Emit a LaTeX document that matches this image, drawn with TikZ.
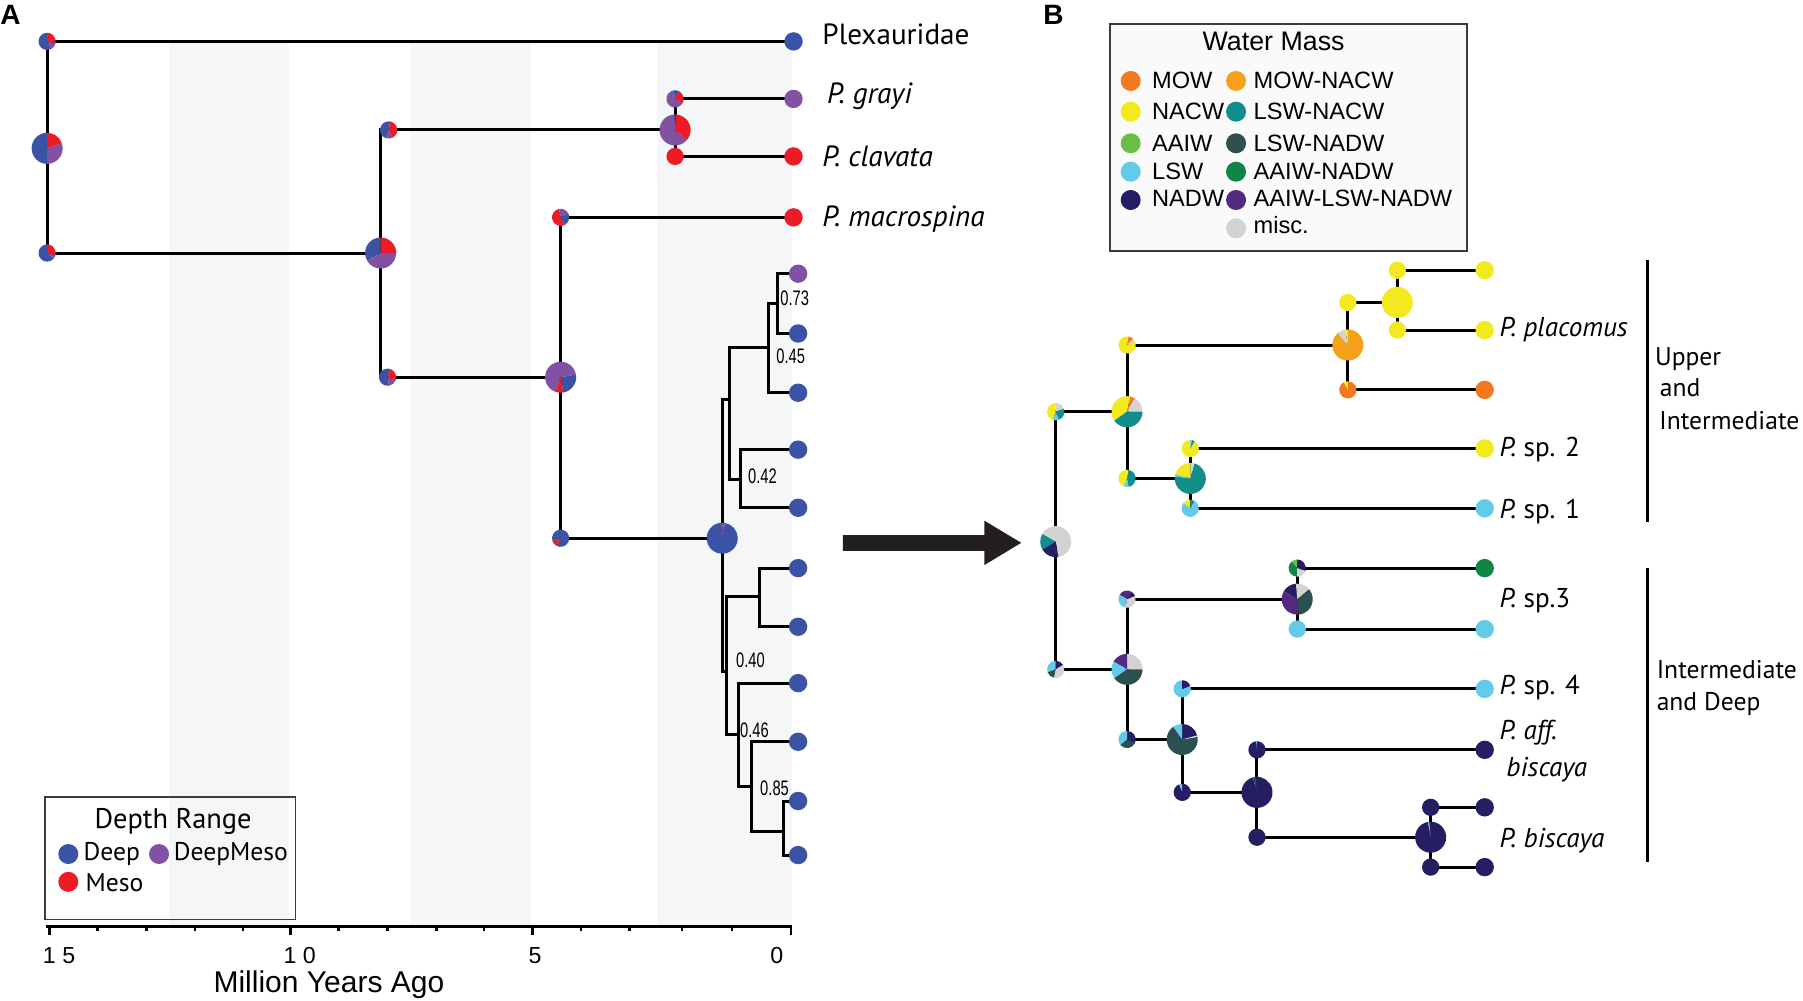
\documentclass[tikz,border=0pt]{standalone}
\usepackage{fontspec}
\setmainfont{PT Sans}
\newfontfamily\arialf{Liberation Sans}
\definecolor{dp}{RGB}{58,83,164}
\definecolor{ms}{RGB}{237,28,36}
\definecolor{dm}{RGB}{129,82,163}
\definecolor{mow}{RGB}{243,121,32}
\definecolor{mownacw}{RGB}{247,161,27}
\definecolor{nacw}{RGB}{242,234,30}
\definecolor{lswnacw}{RGB}{17,142,140}
\definecolor{aaiw}{RGB}{106,189,69}
\definecolor{lswnadw}{RGB}{44,80,80}
\definecolor{lsw}{RGB}{98,203,232}
\definecolor{aaiwnadw}{RGB}{14,135,70}
\definecolor{nadw}{RGB}{38,30,98}
\definecolor{aaiwlswnadw}{RGB}{84,41,128}
\definecolor{misc}{RGB}{211,211,211}
\definecolor{band}{RGB}{245,246,248}
\definecolor{arrowc}{RGB}{35,31,32}
\definecolor{boxline}{RGB}{60,60,62}
\newcommand\drawpie[3]{\foreach \pa/\pb/\pc in {#3}{\fill[\pc] (#1) -- ++({-1*(\pa)}:#2) arc[start angle={-1*(\pa)}, end angle={-1*(\pb)}, radius=#2] -- cycle;}}
\newcommand\disc[3]{\fill[#3] (#1) circle[radius=#2];}
\tikzset{
  branch/.style={line width=1.5pt, black},
  axisl/.style={line width=1.3pt, black},
  splabA/.style={anchor=base west, inner sep=0, font=\fontsize{14.6}{17}\selectfont},
  splabB/.style={anchor=base west, inner sep=0, font=\fontsize{13.6}{16}\selectfont},
  grplab/.style={anchor=base west, inner sep=0, font=\fontsize{12.8}{15}\selectfont},
  support/.style={anchor=center, inner sep=0, font=\arialf\fontsize{10.5}{12}\selectfont},
  axnum/.style={anchor=base, inner sep=0, font=\arialf\fontsize{11.6}{13}\selectfont},
  legB/.style={anchor=base west, inner sep=0, font=\arialf\fontsize{11.8}{13}\selectfont},
  legA/.style={anchor=base west, inner sep=0, font=\fontsize{12.8}{15}\selectfont},
  panel/.style={anchor=base west, inner sep=0, font=\arialf\bfseries\fontsize{14}{16}\selectfont},
}
\begin{document}
\begin{tikzpicture}[x=0.575pt,y=-0.575pt]
\useasboundingbox (0,0) rectangle (1567.8,870.4);
% ---------------- Panel A background bands
\foreach \xa/\xb in {147/251,357/462,571/689} \fill[band] (\xa,36) rectangle (\xb,805);
\node[panel] (labA) at (0,21) {A};
\node[panel] (labB) at (907,21) {B};
% ---------------- Panel A coordinates
\coordinate (R) at (41,129);
\coordinate (Rt) at (41,36);
\coordinate (Rb) at (41,220);
\coordinate (Lplex) at (690,36);
\coordinate (N1) at (331,220);
\coordinate (c1) at (331,113);
\coordinate (c2) at (331,328);
\coordinate (N1t) at (338,113);
\coordinate (N1b) at (337,328);
\coordinate (N2) at (587,113);
\coordinate (N2t) at (587,86);
\coordinate (N2b) at (587,136);
\coordinate (Lgrayi) at (690,86);
\coordinate (Lclav) at (690,136);
\coordinate (N3) at (487.5,328);
\coordinate (N3t) at (487.5,189);
\coordinate (N3b) at (487.5,468);
\coordinate (Lmac) at (690,189);
\coordinate (N4) at (628,468);
\coordinate (U) at (634,347);
\coordinate (V) at (668,302);
\coordinate (W) at (676,264);
\coordinate (X) at (643.5,417);
\coordinate (Y) at (632,583.5);
\coordinate (Z) at (660,519);
\coordinate (P) at (642,639);
\coordinate (Q) at (653.6,684);
\coordinate (S) at (681,722.6);
\coordinate (l1) at (694,238);
\coordinate (l2) at (694,290);
\coordinate (l3) at (694,341.5);
\coordinate (l4) at (694,391);
\coordinate (l5) at (694,441.5);
\coordinate (l6) at (694,494);
\coordinate (l7) at (694,545);
\coordinate (l8) at (694,594);
\coordinate (l9) at (694,645);
\coordinate (l10) at (694,696.5);
\coordinate (l11) at (694,743.5);
% ---------------- Panel A branches
\draw[branch] (R) -- (Rt) -- (Lplex);
\draw[branch] (R) -- (Rb) -- (N1);
\draw[branch] (N1) -- (c1) -- (N2);
\draw[branch] (N1) -- (c2) -- (N3);
\draw[branch] (N2) |- (Lgrayi);
\draw[branch] (N2) |- (Lclav);
\draw[branch] (N3) |- (Lmac);
\draw[branch] (N3) |- (N4);
\draw[branch] (N4) |- (U);
\draw[branch] (N4) |- (Y);
\draw[branch] (U) |- (V);
\draw[branch] (U) |- (X);
\draw[branch] (V) |- (W);
\draw[branch] (V) |- (l3);
\draw[branch] (W) |- (l1);
\draw[branch] (W) |- (l2);
\draw[branch] (X) |- (l4);
\draw[branch] (X) |- (l5);
\draw[branch] (Y) |- (Z);
\draw[branch] (Y) |- (P);
\draw[branch] (Z) |- (l6);
\draw[branch] (Z) |- (l7);
\draw[branch] (P) |- (l8);
\draw[branch] (P) |- (Q);
\draw[branch] (Q) |- (l9);
\draw[branch] (Q) |- (S);
\draw[branch] (S) |- (l10);
\draw[branch] (S) |- (l11);
% ---------------- Panel A pies
\drawpie{R}{13.5}{90/270/dp, 270/380/dm, 20/90/ms}
\drawpie{Rt}{7.5}{90/300/dp, 300/350/dm, -10/90/ms}
\drawpie{Rb}{7.5}{90/320/dp, 320/345/dm, -15/90/ms}
\drawpie{N1}{13.5}{90/210/dp, 210/360/dm, 0/90/ms}
\drawpie{N1t}{7.5}{80/250/dp, 250/300/dm, -60/80/ms}
\drawpie{N1b}{7.5}{70/280/dp, 280/340/dm, -20/70/ms}
\drawpie{N2}{13.5}{92/320/dm, 88/92/dp, -40/88/ms}
\drawpie{N2t}{7.5}{100/330/dm, 60/100/dp, -30/60/ms}
\disc{N2b}{7.5}{ms}
\drawpie{N3}{13.5}{10/250/dm, 250/280/ms, 280/370/dp}
\drawpie{N3t}{7.5}{100/300/ms, 300/390/dp, 30/100/dm}
\drawpie{N3b}{7.5}{240/560/dp, 200/240/ms}
\drawpie{N4}{13.5}{95/440/dp, 80/95/dm}
\disc{Lplex}{8}{dp}
\disc{Lgrayi}{8}{dm}
\disc{Lclav}{8}{ms}
\disc{Lmac}{8}{ms}
\disc{l1}{8}{dm}
\foreach \l in {l2,l3,l4,l5,l6,l7,l8,l9,l10,l11} {\disc{\l}{8}{dp}}
% support values
\node[support] (s73) at (691,259) {\scalebox{0.7}[1]{0.73}};
\node[support] (s45) at (687.5,309.6) {\scalebox{0.7}[1]{0.45}};
\node[support] (s42) at (663,414.5) {\scalebox{0.7}[1]{0.42}};
\node[support] (s40) at (652.5,574) {\scalebox{0.7}[1]{0.40}};
\node[support] (s46) at (656,634.8) {\scalebox{0.7}[1]{0.46}};
\node[support] (s85) at (673.5,685.5) {\scalebox{0.7}[1]{0.85}};
% species labels A
\node[splabA] (tplex) at (714.8,38.3) {Plexauridae};
\node[splabA] (tgrayi) at (718.8,89.9) {\itshape P. grayi};
\node[splabA] (tclav) at (714.8,145) {\itshape P. clavata};
\node[splabA] (tmac) at (714.8,197) {\itshape P. macrospina};
% axis
\coordinate (ax0) at (40,805.8);
\coordinate (ax1) at (688.5,805.8);
\draw[axisl] (ax0) -- (ax1);
\foreach \t in {42.9,252.6,462.8,687.9} \draw[axisl] (\t,805.8) -- (\t,813);
\foreach \t in {84.9,127.3,169.7,211.2,294.5,337,379.4,420.8,505.2,547.6,593,636.5} \draw[axisl] (\t,805.8) -- (\t,809.6);
\node[axnum] (n15) at (51.4,837.7) {1 5};
\node[axnum] (n10) at (260.6,837.7) {1 0};
\node[axnum] (n5) at (465.2,837.7) {5};
\node[axnum] (n0) at (675.4,837.7) {0};
\node[anchor=base, inner sep=0, font=\arialf\fontsize{15}{17}\selectfont] (xtitle) at (286,863.2) {Million Years Ago};
% legend A
\draw[boxline, line width=0.8pt] (39,693) rectangle (257,799.4);
\node[anchor=base, inner sep=0, font=\fontsize{14.2}{16}\selectfont] (ltA) at (150.5,720.3) {Depth Range};
\coordinate (kdeep) at (59.4,742.6);
\coordinate (kdm) at (138.3,742.6);
\coordinate (kms) at (59.4,766.8);
\disc{kdeep}{8.7}{dp}
\disc{kdm}{8.7}{dm}
\disc{kms}{8.7}{ms}
\node[legA] at (72.4,747.8) {Deep};
\node[legA] at (150.8,747.8) {DeepMeso};
\node[legA] at (74,775.4) {Meso};
% ---------------- arrow between panels
\fill[arrowc] (733,465.2) -- (856,465.2) -- (856,452.8) -- (888,472) -- (856,491.3) -- (856,478.9) -- (733,478.9) -- cycle;
% ---------------- Panel B legend
\draw[boxline, line width=1pt, fill={rgb,255:red,250;green,250;blue,250}] (965.2,20.9) rectangle (1275.4,218);
\node[anchor=base, inner sep=0, font=\arialf\fontsize{13.4}{15}\selectfont] (ltB) at (1107.5,44) {Water Mass};
\foreach \yc/\yb/\ca/\ta/\cb/\tb in {70.4/76.8/mow/MOW/mownacw/MOW-NACW, 97.1/103.8/nacw/NACW/lswnacw/LSW-NACW, 124.6/131.3/aaiw/AAIW/lswnadw/LSW-NADW, 149.3/155.7/lsw/LSW/aaiwnadw/AAIW-NADW, 173.9/179.7/nadw/NADW/aaiwlswnadw/AAIW-LSW-NADW}{
  \fill[\ca] (983.2,\yc) circle[radius=8.7];
  \fill[\cb] (1074.8,\yc) circle[radius=8.7];
  \node[legB] at (1001.5,\yb) {\ta};
  \node[legB] at (1089.8,\yb) {\tb};
}
\fill[misc] (1074.8,198.5) circle[radius=8.7];
\node[legB] at (1089.8,202.9) {misc.};
% ---------------- Panel B coordinates
\coordinate (BR) at (918,471);
\coordinate (Bt) at (918,358);
\coordinate (Bb) at (918,582);
\coordinate (B1) at (980,358);
\coordinate (B1t) at (980,300);
\coordinate (B1b) at (980,416);
\coordinate (B2) at (1172,300);
\coordinate (B2t) at (1172,263);
\coordinate (B2b) at (1172,339);
\coordinate (B3) at (1215,263);
\coordinate (B3t) at (1215,235);
\coordinate (B3b) at (1215,287);
\coordinate (Lp1) at (1291,235);
\coordinate (Lp2) at (1291,287);
\coordinate (Lp3) at (1291,339);
\coordinate (B4) at (1035,416);
\coordinate (B4t) at (1035,390);
\coordinate (B4b) at (1035,442);
\coordinate (Lsp2) at (1291,390);
\coordinate (Lsp1) at (1291,442);
\coordinate (B5) at (980,582);
\coordinate (B5t) at (980,521);
\coordinate (B5b) at (980,643);
\coordinate (B6) at (1128,521);
\coordinate (B6t) at (1128,494);
\coordinate (B6b) at (1128,547);
\coordinate (Lsp3a) at (1291,494);
\coordinate (Lsp3b) at (1291,547);
\coordinate (B7) at (1028,643);
\coordinate (B7t) at (1028,599);
\coordinate (B7b) at (1028,689);
\coordinate (Lsp4) at (1291,599);
\coordinate (B8) at (1093,689);
\coordinate (B8t) at (1093,652);
\coordinate (B8b) at (1093,728);
\coordinate (Laff) at (1291,652);
\coordinate (B9) at (1244,728);
\coordinate (B9t) at (1244,702);
\coordinate (B9b) at (1244,754);
\coordinate (Lbis1) at (1291,702);
\coordinate (Lbis2) at (1291,754);
% ---------------- Panel B branches
\draw[branch] (BR) |- (B1);
\draw[branch] (BR) |- (B5);
\draw[branch] (B1) |- (B2);
\draw[branch] (B1) |- (B4);
\draw[branch] (B2) |- (B3);
\draw[branch] (B2) |- (Lp3);
\draw[branch] (B3) |- (Lp1);
\draw[branch] (B3) |- (Lp2);
\draw[branch] (B4) |- (Lsp2);
\draw[branch] (B4) |- (Lsp1);
\draw[branch] (B5) |- (B6);
\draw[branch] (B5) |- (B7);
\draw[branch] (B6) |- (Lsp3a);
\draw[branch] (B6) |- (Lsp3b);
\draw[branch] (B7) |- (Lsp4);
\draw[branch] (B7) |- (B8);
\draw[branch] (B8) |- (Laff);
\draw[branch] (B8) |- (B9);
\draw[branch] (B9) |- (Lbis1);
\draw[branch] (B9) |- (Lbis2);
% ---------------- Panel B pies
\drawpie{BR}{13.5}{-80/150/misc, 150/210/lswnacw, 210/280/nadw}
\drawpie{Bt}{7.5}{90/250/nacw, 20/90/misc, -70/20/lswnacw, 250/290/lsw}
\drawpie{B1}{13.5}{78/215/nacw, 60/78/mow, 0/60/misc, 215/360/lswnacw}
\drawpie{B1t}{7.5}{80/385/nacw, 45/80/mow, 25/45/misc}
\drawpie{B2}{13.5}{130/450/mownacw, 100/130/misc, 90/100/nacw}
\disc{B2t}{7.5}{nacw}
\disc{B3}{13.5}{nacw}
\disc{B3t}{7.5}{nacw}
\disc{B3b}{7.5}{nacw}
\drawpie{B2b}{7.5}{118/450/mow, 90/118/nacw}
\drawpie{B1b}{7.5}{-80/80/lswnacw, 80/250/nacw, 250/280/lsw}
\drawpie{B4}{13.5}{175/435/lswnacw, 75/90/misc, 90/165/nacw, 165/175/lsw}
\drawpie{B4t}{7.5}{90/420/nacw, 60/80/lswnacw, 80/90/lsw}
\drawpie{B4b}{7.5}{140/420/lsw, 90/140/nacw, 60/90/lswnacw}
\drawpie{Bb}{7.5}{30/90/nadw, 90/200/lsw, 200/260/lswnadw, 260/390/misc}
\drawpie{B5}{13.5}{0/90/misc, 90/150/aaiwlswnadw, 150/215/lsw, 215/360/lswnadw}
\drawpie{B5t}{7.5}{60/150/aaiwlswnadw, 20/60/nadw, 150/260/lsw, 260/380/misc}
\drawpie{B6}{13.5}{95/150/nadw, 40/95/misc, -85/40/lswnadw, 150/275/aaiwlswnadw}
\drawpie{B6t}{7.5}{-20/90/nadw, 90/130/aaiw, 130/270/aaiwnadw, 270/340/misc}
\disc{B6b}{7.5}{lsw}
\drawpie{B5b}{7.5}{-30/90/nadw, 90/220/lsw, 220/330/lswnadw}
\drawpie{B7}{13.5}{125/370/lswnadw, 15/90/nadw, 90/125/lsw, 10/15/misc}
\drawpie{B7t}{7.5}{90/380/lsw, 20/90/nadw}
\drawpie{B7b}{7.5}{110/450/nadw, 90/110/lsw}
\drawpie{B8}{13.5}{105/455/nadw, 95/105/lswnadw}
\drawpie{B8t}{7.5}{95/450/nadw, 90/95/lsw}
\disc{B8b}{7.5}{nadw}
\drawpie{B9}{13.5}{100/455/nadw, 95/100/lsw}
\disc{B9t}{7.5}{nadw}
\disc{B9b}{7.5}{nadw}
% leaves B
\disc{Lp1}{8}{nacw}
\disc{Lp2}{8}{nacw}
\disc{Lp3}{8}{mow}
\disc{Lsp2}{8}{nacw}
\disc{Lsp1}{8}{lsw}
\disc{Lsp3a}{8}{aaiwnadw}
\disc{Lsp3b}{8}{lsw}
\disc{Lsp4}{8}{lsw}
\disc{Laff}{8}{nadw}
\disc{Lbis1}{8}{nadw}
\disc{Lbis2}{8}{nadw}
% species labels B
\node[splabB] (tplac) at (1303.6,293) {\itshape P. placomus};
\node[splabB] (tsp2) at (1303.6,397) {\itshape P.\upshape\ sp. 2};
\node[splabB] (tsp1) at (1303.6,450.7) {\itshape P.\upshape\ sp. 1};
\node[splabB] (tsp3) at (1303.6,528) {\itshape P.\upshape\ sp.3};
\node[splabB] (tsp4) at (1303.6,603.5) {\itshape P.\upshape\ sp. 4};
\node[splabB] (taff) at (1303.6,643) {\itshape P. aff.};
\node[splabB] (taff2) at (1309.6,674.8) {\itshape biscaya};
\node[splabB] (tbis) at (1303.6,736.8) {\itshape P. biscaya};
% brackets
\coordinate (br1a) at (1432.4,226);
\coordinate (br1b) at (1432.4,453.6);
\coordinate (br2a) at (1432.4,494.2);
\coordinate (br2b) at (1432.4,749.3);
\draw[line width=1.6pt] (br1a) -- (br1b);
\draw[line width=1.6pt] (br2a) -- (br2b);
\node[grplab] (g1a) at (1438.8,317.4) {Upper};
\node[grplab] (g1b) at (1443,345) {and};
\node[grplab] (g1c) at (1442.5,373.3) {Intermediate};
\node[grplab] (g2a) at (1440.3,589.9) {Intermediate};
\node[grplab] (g2b) at (1440.3,618) {and Deep};
\end{tikzpicture}
\end{document}
